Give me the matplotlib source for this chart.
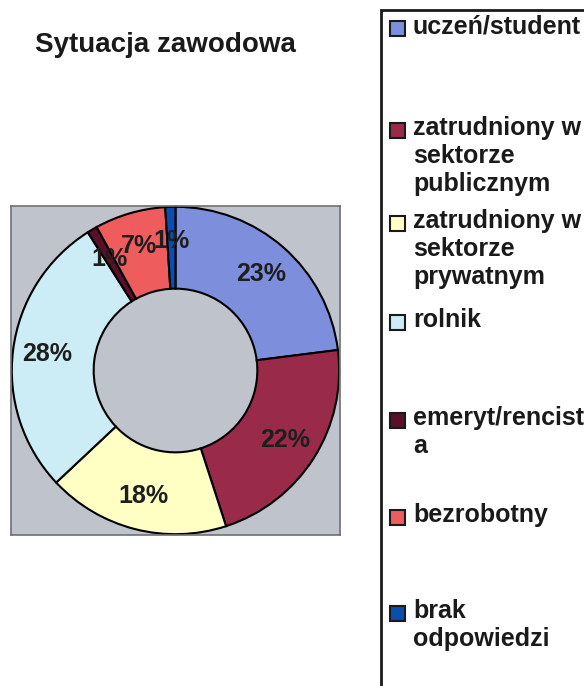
import matplotlib
matplotlib.use("Agg")
import matplotlib.pyplot as plt
from matplotlib.patches import Rectangle

plt.rcParams['font.family'] = ['Liberation Sans', 'DejaVu Sans']

title = "Sytuacja zawodowa"
categories = ["uczeń/student", "zatrudniony w\nsektorze\npublicznym",
              "zatrudniony w\nsektorze\nprywatnym", "rolnik",
              "emeryt/rencist\na", "bezrobotny", "brak\nodpowiedzi"]
values = [23, 22, 18, 28, 1, 7, 1]
colors = ["#7d8fdc", "#9a2a4a", "#ffffc4", "#ccecf6", "#5a1028", "#ee5c5e", "#0a4fb0"]
legend_y = [28, 130, 223, 322, 420, 517, 613]  # pixel row of first legend line

W, H = 584, 686
fig = plt.figure(figsize=(W / 100, H / 100), dpi=100)
fig.patch.set_facecolor("white")

# title
fig.text(35 / W, 1 - 45 / H, title, fontsize=20, fontweight="bold",
         color="#1a1a1a", ha="left", va="center")

# pie axes (gray square plot area)
ax = fig.add_axes([11 / W, 1 - 535 / H, 329 / W, 329 / H])
wedges, texts, autotexts = ax.pie(
    values, colors=colors, startangle=90, counterclock=False,
    radius=1.0, autopct="%d%%", pctdistance=0.79, frame=True,
    wedgeprops=dict(width=0.5, edgecolor="black", linewidth=1.5),
    textprops=dict(fontsize=18, fontweight="bold", color="#1e1e1e"))
ax.set_facecolor("#bfc4cc")
for s in ax.spines.values():
    s.set_color("#707070")
    s.set_linewidth(1.2)
ax.set_xticks([])
ax.set_yticks([])
ax.set_xlim(-1.005, 1.005)
ax.set_ylim(-1.005, 1.005)
ax.set_aspect("equal", adjustable="box")

# legend box
fig.patches.append(Rectangle((381 / W, -0.05), 1.0, 1 - 10 / H + 0.05,
                             transform=fig.transFigure, facecolor="white",
                             edgecolor="#1a1a1a", linewidth=2, zorder=0))
for cat, col, y in zip(categories, colors, legend_y):
    yc = 1 - y / H
    fig.patches.append(Rectangle((390 / W, yc - 7.5 / H), 15 / W, 15 / H,
                                 transform=fig.transFigure, facecolor=col,
                                 edgecolor="#1a1a1a", linewidth=1.5, zorder=2))
    fig.text(413 / W, yc + 14 / H, cat, fontsize=18, fontweight="bold",
             color="#1a1a1a", ha="left", va="top", linespacing=1.22)

fig.savefig("out.png", dpi=100, facecolor="white")
